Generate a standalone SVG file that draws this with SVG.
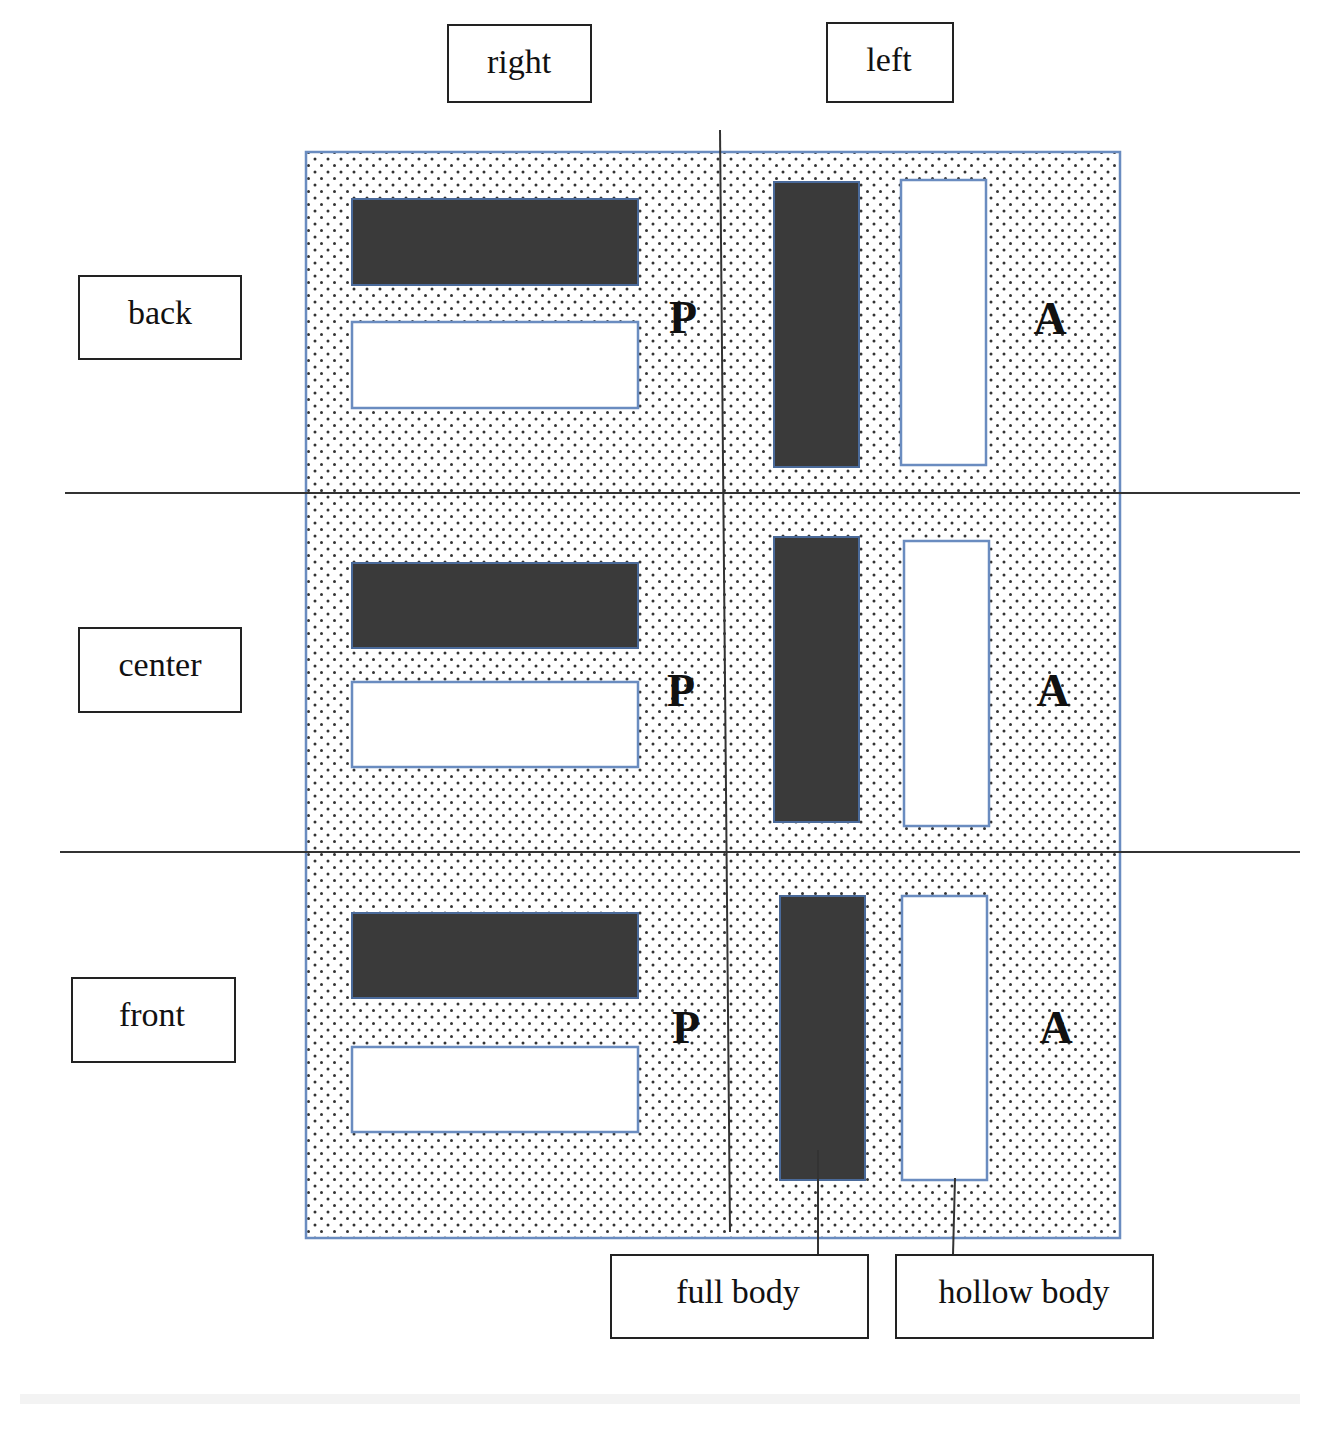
<svg xmlns="http://www.w3.org/2000/svg" width="1325" height="1431" viewBox="0 0 1325 1431">
<defs>
<pattern id="dots" width="13" height="13" patternUnits="userSpaceOnUse">
<rect width="13" height="13" fill="#fff"/>
<circle cx="3" cy="3" r="1.5" fill="#333"/>
<circle cx="9.5" cy="9.5" r="1.5" fill="#333"/>
</pattern>
<style>
.lbl{fill:#fff;stroke:#222;stroke-width:2}
.t{font-family:"Liberation Serif",serif;font-size:34px;fill:#111;text-anchor:middle}
.L{font-family:"Liberation Serif",serif;font-size:46px;font-weight:bold;fill:#111;text-anchor:middle}
.dk{fill:#3a3a3a;stroke:#4a6a9a;stroke-width:2}
.wh{fill:#fff;stroke:#6a8cc0;stroke-width:2.5}
.ln{stroke:#333;stroke-width:2;fill:none}
</style>
</defs>
<rect width="1325" height="1431" fill="#fff"/>
<rect x="20" y="1394" width="1280" height="10" fill="#f3f3f3"/>
<g id="field">
<rect x="306" y="152" width="814" height="1086" fill="url(#dots)" stroke="#6a8cc0" stroke-width="2.5"/>
</g>
<g id="bars">
<rect class="dk" x="352" y="199" width="286" height="86"/>
<rect class="wh" x="352" y="322" width="286" height="86"/>
<rect class="dk" x="352" y="563" width="286" height="85"/>
<rect class="wh" x="352" y="682" width="286" height="85"/>
<rect class="dk" x="352" y="913" width="286" height="85"/>
<rect class="wh" x="352" y="1047" width="286" height="85"/>
<rect class="dk" x="774" y="182" width="85" height="285"/>
<rect class="wh" x="901" y="180" width="85" height="285"/>
<rect class="dk" x="774" y="537" width="85" height="285"/>
<rect class="wh" x="904" y="541" width="85" height="285"/>
<rect class="dk" x="780" y="896" width="85" height="284"/>
<rect class="wh" x="902" y="896" width="85" height="284"/>
</g>
<g id="connectors">
<line class="ln" x1="720" y1="130" x2="730" y2="1232"/>
<line class="ln" x1="65" y1="493" x2="1300" y2="493"/>
<line class="ln" x1="60" y1="852" x2="1300" y2="852"/>
<line class="ln" x1="818" y1="1150" x2="818" y2="1255"/>
<line class="ln" x1="955" y1="1178" x2="953" y2="1255"/>
</g>
<g id="letters">
<text class="L" x="683" y="333">P</text>
<text class="L" x="1050" y="334">A</text>
<text class="L" x="681" y="706">P</text>
<text class="L" x="1053" y="706">A</text>
<text class="L" x="686" y="1043">P</text>
<text class="L" x="1056" y="1043">A</text>
</g>
<g id="n-right"><rect class="lbl" x="448" y="25" width="143" height="77"/><text class="t" x="519" y="73">right</text></g>
<g id="n-left"><rect class="lbl" x="827" y="23" width="126" height="79"/><text class="t" x="889" y="71">left</text></g>
<g id="n-back"><rect class="lbl" x="79" y="276" width="162" height="83"/><text class="t" x="160" y="324">back</text></g>
<g id="n-center"><rect class="lbl" x="79" y="628" width="162" height="84"/><text class="t" x="160" y="676">center</text></g>
<g id="n-front"><rect class="lbl" x="72" y="978" width="163" height="84"/><text class="t" x="152" y="1026">front</text></g>
<g id="n-full"><rect class="lbl" x="611" y="1255" width="257" height="83"/><text class="t" x="738" y="1303">full body</text></g>
<g id="n-hollow"><rect class="lbl" x="896" y="1255" width="257" height="83"/><text class="t" x="1024" y="1303">hollow body</text></g>
</svg>
